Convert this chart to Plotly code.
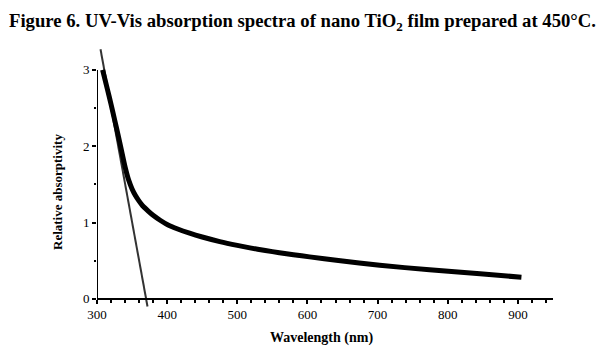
import plotly.graph_objects as go

# Absorption spectrum
wavelength = [308, 315, 320, 325, 330, 335, 340, 345, 350, 355, 360, 365, 373, 380, 390,
              400, 415, 432, 450, 475, 500, 518, 540, 560, 580, 603, 644, 703, 774,
              846, 905]
absorptivity = [3.00, 2.74, 2.55, 2.35, 2.15, 1.94, 1.73, 1.56, 1.44, 1.35, 1.28, 1.22,
                1.15, 1.095, 1.03, 0.975, 0.915, 0.86, 0.81, 0.75, 0.70, 0.668, 0.633,
                0.604, 0.578, 0.55, 0.502, 0.44, 0.38, 0.328, 0.283]

# Tangent line used for band-gap extrapolation
tangent_x = [305, 372]
tangent_y = [3.27, -0.10]

x_ticks = [300, 400, 500, 600, 700, 800, 900]
y_ticks = [0, 1, 2, 3]

FONT = "Liberation Serif"

fig = go.Figure()
fig.add_trace(go.Scatter(x=tangent_x, y=tangent_y, mode="lines",
                         line=dict(color="#333333", width=2), showlegend=False))
fig.add_trace(go.Scatter(x=wavelength, y=absorptivity, mode="lines",
                         line=dict(color="black", width=5, shape="spline", smoothing=0.5),
                         showlegend=False))

y_lo, y_hi = -0.12, 3.3
fig.update_layout(
    width=608, height=350,
    margin=dict(l=97, r=55, t=47, b=42),
    paper_bgcolor="white", plot_bgcolor="white",
    font=dict(family=FONT, color="black", size=13),
    xaxis=dict(range=[300, 950], tickvals=x_ticks, showgrid=False, zeroline=False,
               showline=True, linecolor="black", linewidth=2,
               ticks="outside", ticklen=4, tickwidth=2, tickcolor="black",
               minor=dict(dtick=20, tick0=300, ticks="outside", ticklen=3, tickwidth=2,
                          tickcolor="black", showgrid=False),
               anchor="free", position=(0 - y_lo) / (y_hi - y_lo),
               tickfont=dict(family=FONT, size=13)),
    yaxis=dict(range=[y_lo, y_hi], tickvals=y_ticks, showgrid=False, zeroline=False,
               showline=False, ticks="outside", ticklen=4, tickwidth=2, tickcolor="black",
               minor=dict(tickvals=[0.5, 1.5, 2.5], ticks="outside", ticklen=2,
                          tickwidth=2, tickcolor="black", showgrid=False),
               tickfont=dict(family=FONT, size=13)),
    shapes=[dict(type="line", xref="x", yref="y", x0=300, x1=300, y0=0, y1=3,
                 line=dict(color="black", width=2))],
    annotations=[
        dict(text="<b>Figure 6. UV-Vis absorption spectra of nano TiO<sub>2</sub> film prepared at 450°C.</b>",
             xref="paper", yref="paper", x=(302 - 97) / 456, y=1 + (47 - 22) / 261,
             xanchor="center", yanchor="middle", showarrow=False,
             font=dict(family=FONT, size=18.7, color="black")),
        dict(text="<b>Relative absorptivity</b>", textangle=-90,
             xref="paper", yref="paper", x=(57 - 97) / 456, y=(308 - 192) / 261,
             xanchor="center", yanchor="middle", showarrow=False,
             font=dict(family=FONT, size=13, color="black")),
        dict(text="<b>Wavelength (nm)</b>",
             xref="paper", yref="paper", x=(321 - 97) / 456, y=-(338 - 308) / 261,
             xanchor="center", yanchor="middle", showarrow=False,
             font=dict(family=FONT, size=14, color="black")),
    ],
)

fig.write_html("out.html")
